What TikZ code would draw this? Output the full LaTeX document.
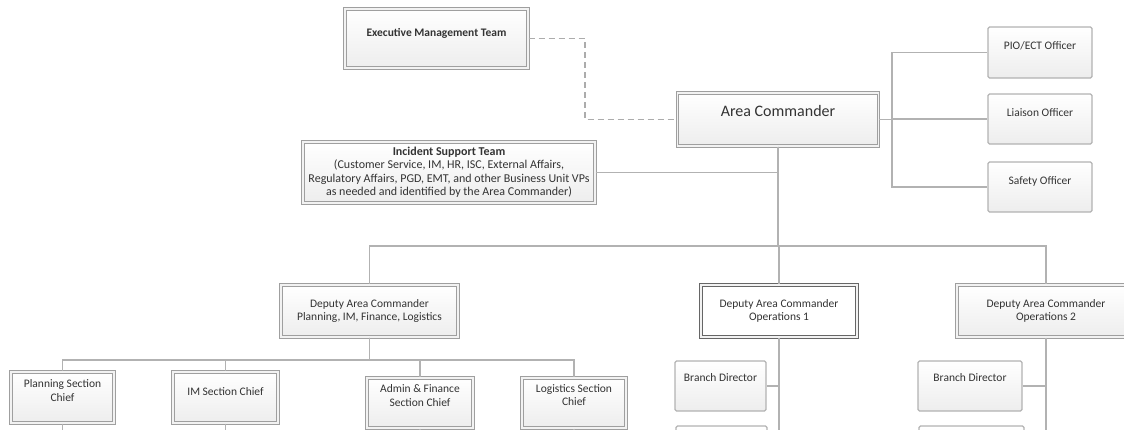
\documentclass[tikz,border=0pt]{standalone}
\usepackage{fontspec}
\setmainfont{Carlito}

\begin{document}
\begin{tikzpicture}
  [x=1pt, y=-1pt,
   link/.style={draw=gray!60, line width=1.3pt},
   dotlink/.style={draw=gray!65, line width=1.4pt, dash pattern=on 6pt off 4pt},
   boxsize/.style 2 args={minimum width=#1pt, minimum height=#2pt},
   post/.style={draw=gray!75, line width=1.1pt, double=gray!10, double distance=1.4pt,
     top color=white, bottom color=gray!14, text=black!80, align=center, inner sep=0pt,
     font=\fontsize{11.5}{13.5}\selectfont},
   unit/.style={draw=gray!60, line width=1.1pt, rounded corners=1.5pt,
     top color=white, bottom color=gray!14, text=black!80, align=center, inner sep=0pt,
     font=\fontsize{11.5}{13.5}\selectfont},
   oneline/.style={text height=8pt, text depth=#1pt}]
   \useasboundingbox (0,0) rectangle (1124,429);
   \clip (0,0) rectangle (1124,429);

   \node[post, boxsize={183}{59}, oneline=13, font=\fontsize{11.5}{13.5}\selectfont\bfseries] (emt) at (436.5,38.5) {Executive Management Team};
   \node[post, boxsize={201}{53}, text height=11pt, text depth=18pt, font=\fontsize{16}{18}\selectfont] (ac) at (778,119.5) {Area Commander};
   \node[unit, boxsize={104}{51}, oneline=14] (pio) at (1040,52.5) {PIO/ECT Officer};
   \node[unit, boxsize={104}{50}, oneline=14] (lia) at (1040,119) {Liaison Officer};
   \node[unit, boxsize={104}{50}, oneline=14] (saf) at (1040,187) {Safety Officer};
   \node[post, boxsize={292}{61}, font=\fontsize{12}{13.5}\selectfont] (ist) at (449,172.5)
     {\textbf{Incident Support Team}\\(Customer Service, IM, HR, ISC, External Affairs,\\Regulatory Affairs, PGD, EMT, and other Business Unit VPs\\as needed and identified by the Area Commander)};

   \node[post, boxsize={177}{52}] (dpl) at (369.5,311) {Deputy Area Commander\\Planning, IM, Finance, Logistics};
   \node[post, boxsize={156}{52}, draw=black!60, top color=white, bottom color=white] (do1) at (779,311) {Deputy Area Commander\\Operations 1};
   \node[post, boxsize={178}{52}] (do2) at (1046,311) {Deputy Area Commander\\Operations 2};

   \node[post, boxsize={103}{51}, text depth=14.5pt] (psc) at (62.5,397.5) {Planning Section\\Chief};
   \node[post, boxsize={105}{51}, oneline=13] (imc) at (225.5,397.5) {IM Section Chief};
   \node[post, boxsize={106}{50}, text depth=15.5pt] (afc) at (420,403) {Admin \& Finance\\Section Chief};
   \node[post, boxsize={104}{50}, text depth=15.5pt] (lsc) at (574,403) {Logistics Section\\Chief};

   \node[unit, boxsize={91}{50}, oneline=17] (bd1) at (720.5,386) {Branch Director};
   \node[unit, boxsize={104}{50}, oneline=17] (bd2) at (970,386) {Branch Director};
   \node[unit, boxsize={91}{50}] (bx1) at (721.5,451) {};
   \node[unit, boxsize={105}{50}] (bx2) at (971.5,451) {};

   \coordinate (emtx) at (585,0);
   \coordinate (ofx) at (892,0);
   \coordinate (bus) at (0,246);
   \coordinate (secbus) at (0,360);
   \coordinate (bottom) at (0,440);

   \draw[dotlink] (emt.east) -- (emt.east -| emtx) |- (ac.west);
   \foreach \o in {pio,lia,saf}
     \draw[link] (ac.east) -- (ac.east -| ofx) |- (\o.west);
   \draw[link] (ist.east) -- (ist.east -| ac.south);
   \foreach \d in {dpl,do1,do2}
     \draw[link] (ac.south) -- (ac.south |- bus) -| (\d.north);
   \foreach \s in {psc,imc,afc,lsc} {
     \draw[link] (dpl.south) -- (dpl.south |- secbus) -| (\s.north);
     \draw[link] (\s.south) -- (\s.south |- bottom);
   }
   \draw[link] (do1.south) -- (do1.south |- bottom);
   \draw[link] (do2.south) -- (do2.south |- bottom);
   \draw[link] (bd1.east) -- (bd1.east -| do1.south);
   \draw[link] (bd2.east) -- (bd2.east -| do2.south);
\end{tikzpicture}
\end{document}
